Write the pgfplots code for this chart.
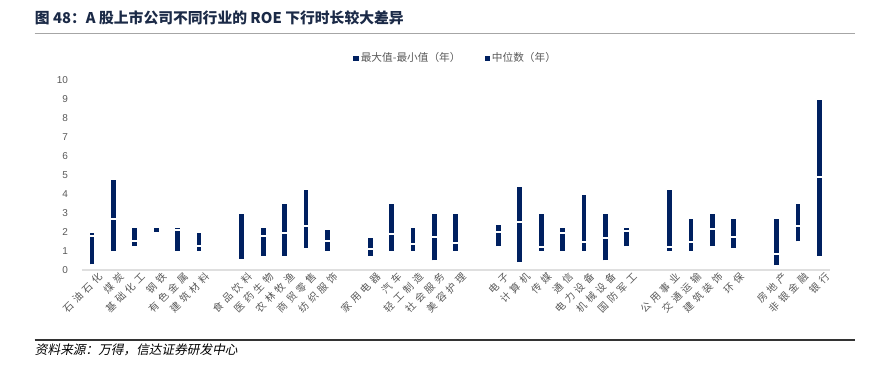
\documentclass[border=0pt]{standalone}
\usepackage{pgfplots}
\pgfplotsset{compat=1.18}
\usepackage{pgfplotstable}
\usepackage{fontspec}
\setmainfont{Noto Sans CJK SC}
\newfontfamily\numfont{Liberation Sans}
\newfontfamily\labfont[LetterSpace=35]{Noto Sans CJK SC}
\newfontfamily\cjkit[FakeSlant=0.2]{Noto Sans CJK SC}
\definecolor{navy}{HTML}{002060}
\definecolor{titlec}{HTML}{1B2A47}
\definecolor{labgray}{HTML}{595959}

\pgfplotstableread{
x min med max
0 0.30 1.80 1.95
1 1.00 2.70 4.72
2 1.25 1.50 2.20
3 2.00 nan 2.20
4 1.02 2.08 2.20
5 1.02 1.27 1.95
7 0.58 nan 2.96
8 0.76 1.80 2.20
9 0.76 1.94 3.47
10 1.18 2.32 4.23
11 1.00 1.55 2.11
13 0.76 1.13 1.71
14 1.00 1.90 3.47
15 1.00 1.36 2.20
16 0.51 1.73 2.96
17 1.00 1.44 2.96
19 1.25 1.99 2.39
20 0.42 2.52 4.38
21 1.00 1.23 2.96
22 1.00 1.94 2.20
23 1.00 1.48 3.96
24 0.51 1.69 2.96
25 1.25 2.06 2.20
27 1.00 1.23 4.23
28 1.00 1.48 2.71
29 1.25 2.18 2.96
30 1.18 1.73 2.71
32 0.25 0.86 2.71
33 1.50 2.29 3.47
34 0.76 4.89 8.96
}\datatable

\begin{document}
\begin{tikzpicture}
\path[use as bounding box] (0,0) rectangle (655.5pt,-274.5pt);
\node[anchor=west, font=\bfseries\fontsize{11.1}{12}\selectfont, text=titlec, inner sep=0pt] at (26pt,-13.5pt) {图 48：A 股上市公司不同行业的 ROE 下行时长较大差异};
\draw[gray!70, line width=1pt] (26pt,-25pt) -- (641pt,-25pt);
\draw[black!80, line width=0.8pt] (26pt,-255pt) -- (641pt,-255pt);
\node[anchor=west, font=\cjkit\fontsize{9.5}{10}\selectfont, text=black, inner sep=0pt] at (26pt,-262.5pt) {资料来源：万得，信达证券研发中心};
\begin{axis}[
  at={(61.5pt,-202.5pt)}, anchor=south west,
  scale only axis, width=561pt, height=142.5pt,
  xmin=-0.47, xmax=34.5, ymin=0, ymax=10,
  axis x line*=bottom, axis y line*=left,
  x axis line style={draw=gray!25, line width=0.8pt},
  y axis line style={draw=none},
  ytick={0,...,10},
  yticklabel style={font=\numfont\fontsize{7.5}{8}\selectfont, text=labgray, xshift=-7pt},
  /pgf/number format/assume math mode=true,
  xtick={0,1,2,3,4,5,7,8,9,10,11,13,14,15,16,17,19,20,21,22,23,24,25,27,28,29,30,32,33,34},
  xticklabels={石油石化,煤炭,基础化工,钢铁,有色金属,建筑材料,食品饮料,医药生物,农林牧渔,商贸零售,纺织服饰,家用电器,汽车,轻工制造,社会服务,美容护理,电子,计算机,传媒,通信,电力设备,机械设备,国防军工,公用事业,交通运输,建筑装饰,环保,房地产,非银金融,银行},
  xticklabel style={rotate=45, anchor=east, font=\labfont\fontsize{7.5}{8}\selectfont, text=labgray, inner sep=0pt, yshift=-7pt, xshift=2pt},
  major tick length=0pt,
  clip=false,
  legend columns=2,
  legend style={at={(0.50,1.116)}, anchor=center, draw=none, fill=none, font=\fontsize{8}{9}\selectfont, text=labgray, /tikz/every even column/.append style={column sep=16pt}},
]
\addplot[draw=none, mark=none, forget plot,
  error bars/.cd, y dir=plus, y explicit, error mark=none,
  error bar style={line width=3.6pt, draw=navy, line cap=butt}]
  table[x=x, y=min, y error plus expr=\thisrow{max}-\thisrow{min}] {\datatable};
\addplot[only marks, mark=-, mark size=2.6pt, draw=white, mark options={line width=1.5pt, draw=white}, forget plot]
  table[x=x, y=med] {\datatable};
\addlegendimage{legend image code/.code={\fill[navy] (0pt,-1.6pt) rectangle (3.2pt,1.6pt);}}
\addlegendentry{最大值-最小值（年）}
\addlegendimage{legend image code/.code={\fill[navy] (0pt,-1.6pt) rectangle (3.2pt,1.6pt);}}
\addlegendentry{中位数（年）}
\end{axis}
\end{tikzpicture}
\end{document}
